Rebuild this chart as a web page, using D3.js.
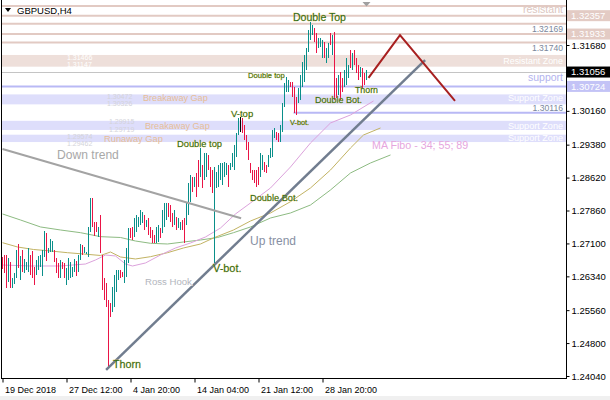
<!DOCTYPE html>
<html><head><meta charset="utf-8">
<script src="https://cdn.jsdelivr.net/npm/d3@7"></script>
<style>html,body{margin:0;padding:0;background:#fff;}svg{display:block;font-family:"Liberation Sans",Arial,sans-serif;}</style>
</head><body><svg id="c" width="610" height="400"></svg>
<script>
// ---- data ----
const high = [1.2679,1.2683,1.2683,1.2676,1.2667,1.2631,1.2641,1.2695,1.2708,1.2681,
1.2695,1.2674,1.2667,1.2699,1.2683,1.2692,1.2656,1.2671,1.2681,1.2683,
1.2695,1.2738,1.2734,1.2699,1.2720,1.2715,1.2695,1.2676,1.2664,1.2671,
1.2667,1.2664,1.2653,1.2676,1.2667,1.2656,1.2674,1.2669,1.2683,1.2708,
1.2706,1.2702,1.2691,1.2748,1.2815,1.2815,1.2760,1.2759,1.2748,1.2775,
1.2683,1.2630,1.2618,1.2579,1.2572,1.2609,1.2637,1.2648,1.2648,1.2648,
1.2644,1.2671,1.2699,1.2745,1.2745,1.2748,1.2768,1.2775,1.2771,1.2787,
1.2782,1.2775,1.2764,1.2768,1.2748,1.2741,1.2729,1.2748,1.2752,1.2745,
1.2787,1.2803,1.2803,1.2803,1.2798,1.2780,1.2787,1.2771,1.2768,1.2759,
1.2764,1.2768,1.2805,1.2849,1.2868,1.2863,1.2863,1.2872,1.2902,1.2930,
1.2891,1.2919,1.2919,1.2914,1.2886,1.2879,1.2886,1.2875,1.2891,1.2895,
1.2895,1.2898,1.2895,1.2891,1.2895,1.2919,1.2937,1.2965,1.2999,1.3002,
1.2999,1.2983,1.2960,1.2944,1.2895,1.2879,1.2879,1.2879,1.2886,1.2919,
1.2914,1.2898,1.2891,1.2914,1.2930,1.2972,1.2976,1.2967,1.2965,1.2983,
1.3034,1.3080,1.3094,1.3087,1.3083,1.3083,1.3071,1.3048,1.3069,1.3099,
1.3129,1.3145,1.3161,1.3203,1.3221,1.3214,1.3207,1.3196,1.3184,1.3184,
1.3180,1.3175,1.3161,1.3173,1.3196,1.3191,1.3198,1.3092,1.3099,1.3106,
1.3092,1.3110,1.3138,1.3122,1.3157,1.3150,1.3157,1.3138,1.3122,1.3117,
1.3115,1.3103,1.3110];
const low = [1.2652,1.2642,1.2607,1.2621,1.2607,1.2607,1.2616,1.2630,1.2653,1.2625,
1.2644,1.2641,1.2648,1.2644,1.2637,1.2631,1.2615,1.2637,1.2648,1.2656,
1.2634,1.2679,1.2670,1.2688,1.2691,1.2691,1.2667,1.2641,1.2631,1.2630,
1.2651,1.2630,1.2614,1.2625,1.2631,1.2633,1.2644,1.2635,1.2644,1.2671,
1.2683,1.2688,1.2685,1.2679,1.2737,1.2748,1.2728,1.2736,1.2725,1.2688,
1.2602,1.2579,1.2563,1.2424,1.2540,1.2551,1.2563,1.2597,1.2625,1.2630,
1.2632,1.2618,1.2632,1.2664,1.2722,1.2718,1.2725,1.2736,1.2748,1.2752,
1.2757,1.2741,1.2748,1.2729,1.2722,1.2711,1.2711,1.2711,1.2713,1.2722,
1.2734,1.2748,1.2764,1.2771,1.2759,1.2748,1.2752,1.2741,1.2745,1.2741,
1.2741,1.2711,1.2752,1.2775,1.2805,1.2828,1.2840,1.2817,1.2840,1.2863,
1.2838,1.2856,1.2863,1.2879,1.2840,1.2826,1.2664,1.2838,1.2840,1.2856,
1.2845,1.2863,1.2868,1.2840,1.2879,1.2886,1.2879,1.2909,1.2960,1.2967,
1.2965,1.2949,1.2926,1.2902,1.2872,1.2856,1.2849,1.2840,1.2845,1.2863,
1.2879,1.2875,1.2872,1.2886,1.2907,1.2909,1.2953,1.2949,1.2944,1.2944,
1.2967,1.3025,1.3059,1.3059,1.3071,1.3048,1.3011,1.3006,1.3034,1.3041,
1.3071,1.3083,1.3110,1.3152,1.3180,1.3191,1.3175,1.3150,1.3161,1.3163,
1.3138,1.3138,1.3126,1.3138,1.3168,1.3145,1.3041,1.3046,1.3053,1.3041,
1.3059,1.3071,1.3076,1.3092,1.3115,1.3110,1.3122,1.3103,1.3087,1.3094,
1.3069,1.3076,1.3087];
// u = bullish, d = bearish, n = doji
const direction = ("ddduduuudu"+"duuuddduuu"+"uuduuudddu"+"dduuuuuduu"+"duuuudddud"+
"ddddduuuud"+"duuudduuuu"+"ududddduud"+"uuuddduduu"+"dduuududdu"+
"duuddduuuu"+"uuuduuuuun"+"dddddddddu"+"udduuuuddu"+"uuuudddduu"+
"uuuuuudduu"+"uduududdud"+"duuududddu"+"ddu").split("");

// moving averages [bar index, price]
const ma34 = [[0,1.26602],[14,1.26579],[29,1.26579],[41.5,1.26625],[46.5,1.26718],[51.5,1.26833],[56.5,1.26810],[61.5,1.26625],[65,1.26579],[71.5,1.26649],[79,1.26833],[86.5,1.26995],[94,1.27110],[101.5,1.27249],[109,1.27456],[116.5,1.27780],[124,1.28034],[134,1.28380],[144,1.28865],[154,1.29419],[164,1.29880],[174,1.30065],[185.5,1.30388]];
const ma55 = [[0,1.27117],[7.5,1.27018],[15.5,1.26960],[24,1.26926],[32.5,1.26886],[40.5,1.26856],[49,1.26822],[54,1.26902],[59,1.26787],[66.5,1.26741],[74,1.26794],[82.5,1.26886],[90.5,1.26995],[99,1.27087],[105.5,1.27226],[115.5,1.27410],[124,1.27618],[134,1.27803],[144,1.28064],[154,1.28380],[164,1.28795],[174,1.29303],[180.5,1.29603],[189,1.29765]];
const ma89 = [[0,1.27780],[9,1.27641],[19,1.27480],[29,1.27410],[39,1.27348],[49,1.27256],[59,1.27237],[66.5,1.27156],[74,1.27103],[82.5,1.27087],[90.5,1.27133],[99,1.27179],[107.5,1.27237],[115.5,1.27348],[124,1.27480],[134,1.27687],[144,1.27803],[154,1.27987],[164,1.28334],[174,1.28726],[184,1.28957],[194,1.29142]];

const resistanceLevels = [1.32581,1.32357,1.32169,1.31933,1.31740];
const supportLevel = 1.30724;
const vbotLevel = {from:145.5, price:1.30116};
const bidPrice = 1.31056;
const resistZone = [1.3145,1.3118];
const supportZones = [[1.3054,1.3031],[1.2993,1.29719],[1.2961,1.2944]];

const downTrend = [[0,1.2928],[119.3,1.2768]];
const upTrend = [[51.8,1.2418],[211.3,1.3133]];
const projection = [[183,1.3092],[198.75,1.3191],[226.25,1.3039]];

const priceTicks = [1.3168,1.3016,1.2938,1.2862,1.2786,1.2710,1.2634,1.2556,1.2480,1.2404];
const timeTickIdx = [0,32,64,96,128,160];
const timeTickLabels = ["19 Dec 2018","27 Dec 12:00","4 Jan 20:00","14 Jan 04:00","21 Jan 12:00","28 Jan 20:00"];

const priceBoxes = [
  {v:1.32357, kind:"res"},{v:1.31933, kind:"res"},{v:1.31056, kind:"bid"},{v:1.30724, kind:"sup"}];

// annotations: [text, bar index, price, style, font size]
const annotations = [
 ["Double Top",145.25,1.3223,"pat",10.5],
 ["Double top",122.75,1.3091,"pat",7.6],
 ["V-top",114.25,1.3002,"pat",9.5],
 ["Double top",87.25,1.2932,"pat",9.3],
 ["Double Bot.",156.25,1.3033,"pat",9],
 ["Thorn",176.25,1.3058,"pat",8.8],
 ["V-bot.",143.75,1.2984,"pat",7.3],
 ["Double Bot.",123.75,1.2807,"pat",9.2],
 ["V-bot.",105.25,1.2644,"pat",10.9],
 ["Thorn",55.25,1.2422,"pat",10.7],
 ["Up trend",123.75,1.2707,"up",12],
 ["Down trend",27.25,1.2904,"down",12.1],
 ["Ross Hook",71.25,1.2614,"ross",9.6],
 ["MA Fibo - 34; 55; 89",184.75,1.2928,"ma",10.7],
 ["Breakaway Gap",70.25,1.3038,"gap",9.1],
 ["1.30472",52.25,1.3044,"gapnum",7],
 ["1.30326",52.25,1.3028,"gapnum",7],
 ["Breakaway Gap",71.25,1.2973,"gap",9.1],
 ["1.29915",53.25,1.2985,"gapnum",7],
 ["1.29719",53.25,1.2968,"gapnum",7],
 ["Runaway Gap",50.75,1.2945,"gap",9.3],
 ["1.29574",32.25,1.2952,"gapnum",7],
 ["1.29462",32.25,1.2936,"gapnum",7],
 ["1.31466",32.25,1.3134,"white",7],
 ["1.31147",32.25,1.3118,"white",7]
];
const rightNotes = [
 ["resistant",1.3242,"resText",10.6],
 ["1.32169",1.3199,"lvl",8.6],
 ["1.31740",1.3154,"lvl",8.6],
 ["Resistant Zone",1.3124,"white",8.9],
 ["support",1.3085,"supText",10.5],
 ["Support Zone",1.3038,"white",9.1],
 ["1.30116",1.3016,"lvl",8.6],
 ["Support Zone",1.2975,"white",9.1],
 ["Support Zone",1.2947,"white",9.1]
];

// ---- drawing ----
const svg = d3.select("#c");
const x = d3.scaleLinear().domain([0,282]).range([2.5,566.5]);
const y = d3.scaleLinear().domain([1.2404,1.3168]).range([376,45]);
const plotL = 2, plotR = 566, plotB = 378;

svg.append("rect").attr("width",610).attr("height",400).attr("fill","#fff");
svg.append("rect").attr("x",0).attr("y",396).attr("width",610).attr("height",4).attr("fill","#f0f0f0");
svg.append("defs").append("clipPath").attr("id","clip").append("rect")
  .attr("x",plotL).attr("y",0).attr("width",plotR-plotL).attr("height",plotB);
const g = svg.append("g").attr("clip-path","url(#clip)");

const resCol="#e2cac3", resZoneCol="#eedfda", supCol="#b9b9f5", supZoneCol="#dedefb";
// zones
g.append("rect").attr("x",plotL).attr("width",plotR-plotL)
  .attr("y",y(resistZone[0])).attr("height",y(resistZone[1])-y(resistZone[0])).attr("fill",resZoneCol);
g.selectAll("rect.sz").data(supportZones).join("rect").attr("class","sz")
  .attr("x",plotL).attr("width",plotR-plotL)
  .attr("y",d=>y(d[0])).attr("height",d=>y(d[1])-y(d[0])).attr("fill",supZoneCol);
// horizontal levels
g.selectAll("line.res").data(resistanceLevels).join("line").attr("class","res")
  .attr("x1",plotL).attr("x2",plotR).attr("y1",d=>y(d)).attr("y2",d=>y(d))
  .attr("stroke",resCol).attr("stroke-width",2);
g.append("line").attr("x1",plotL).attr("x2",plotR).attr("y1",y(bidPrice)).attr("y2",y(bidPrice))
  .attr("stroke","#c4c4c4").attr("stroke-width",1).attr("shape-rendering","crispEdges");
g.append("line").attr("x1",plotL).attr("x2",plotR).attr("y1",y(supportLevel)).attr("y2",y(supportLevel))
  .attr("stroke",supCol).attr("stroke-width",2);
g.append("line").attr("x1",x(vbotLevel.from)).attr("x2",plotR).attr("y1",y(vbotLevel.price)).attr("y2",y(vbotLevel.price))
  .attr("stroke",supCol).attr("stroke-width",2);

// moving averages
const line = d3.line().x(d=>x(d[0])).y(d=>y(d[1]));
[[ma89,"#8dbb82"],[ma55,"#c2b363"],[ma34,"#dca2dc"]].forEach(([d,c])=>{
  g.append("path").attr("d",line(d)).attr("fill","none").attr("stroke",c).attr("stroke-width",1);
});

// candles
const colors = {u:"#0a8f8a", d:"#ea1446", n:"#000"};
g.selectAll("line.bar").data(high.map((h,i)=>({i,h,l:low[i],dir:direction[i]}))).join("line")
  .attr("class","bar")
  .attr("x1",d=>x(d.i)).attr("x2",d=>x(d.i))
  .attr("y1",d=>y(d.h)).attr("y2",d=>Math.max(y(d.l),y(d.h)+1))
  .attr("stroke",d=>colors[d.dir]).attr("stroke-width",1).attr("shape-rendering","crispEdges");

// trend lines
g.append("path").attr("d",line(downTrend)).attr("stroke","#a3a3a3").attr("stroke-width",2).attr("fill","none");
g.append("path").attr("d",line(upTrend)).attr("stroke","#717d8f").attr("stroke-width",2.5).attr("fill","none");
g.append("path").attr("d",line(projection)).attr("stroke","#a82020").attr("stroke-width",2).attr("fill","none");

// annotations
const styles = {
  pat:{fill:"#2f6c1c", stroke:"#e0c040", sw:0.35},
  up:{fill:"#8790a3"}, down:{fill:"#a8a8a8"},
  ross:{fill:"#b3b6be", stroke:"#ffffff", sw:1.2},
  ma:{fill:"#e6a6de"}, gap:{fill:"#e6bd97"}, gapnum:{fill:"#d3d3da"},
  white:{fill:"#ffffff"}, lvl:{fill:"#7a879c"}, resText:{fill:"#dcc6c0"}, supText:{fill:"#b3b3ee"}
};
function styleText(sel, st){
  sel.attr("fill",st.fill);
  if(st.stroke){ sel.attr("stroke",st.stroke).attr("stroke-width",st.sw).attr("paint-order","stroke"); }
}
annotations.forEach(([t,i,p,s,fs])=>{
  const tx = g.append("text").attr("x",x(i)).attr("y",y(p)).text(t).style("font-size",fs+"px");
  styleText(tx, styles[s]);
});
rightNotes.forEach(([t,p,s,fs])=>{
  const tx = g.append("text").attr("x",563).attr("y",y(p)).attr("text-anchor","end").text(t).style("font-size",fs+"px");
  styleText(tx, styles[s]);
});

// frame
svg.append("line").attr("x1",1.5).attr("x2",1.5).attr("y1",0).attr("y2",plotB+0.5).attr("stroke","#000");
svg.append("line").attr("x1",plotR+0.5).attr("x2",plotR+0.5).attr("y1",0).attr("y2",plotB+0.5).attr("stroke","#000");
svg.append("line").attr("x1",1).attr("x2",plotR+1).attr("y1",plotB+0.5).attr("y2",plotB+0.5).attr("stroke","#000");

// right price axis
const ya = svg.append("g").attr("transform",`translate(${plotR+0.5},0)`)
  .call(d3.axisRight(y).tickValues(priceTicks).tickFormat(d3.format(".5f")).tickSize(3).tickSizeOuter(0));
ya.select(".domain").remove();
ya.selectAll("line").attr("stroke","#000");
ya.selectAll("text").attr("x",5).attr("fill","#000").style("font-size","9.5px").style("font-family","'Liberation Sans',Arial,sans-serif");

// price boxes
const boxFill = {res:"#e3cbc4", bid:"#000", sup:"#c3c3f6"};
const bx = svg.append("g");
priceBoxes.forEach(b=>{
  const cy = y(b.v);
  bx.append("rect").attr("x",plotR+1).attr("y",cy-5.5).attr("width",610-plotR-1).attr("height",11).attr("fill",boxFill[b.kind]);
  bx.append("text").attr("x",plotR+5).attr("y",cy).attr("dy","0.35em").text(d3.format(".5f")(b.v))
    .attr("fill","#fff").style("font-size","9.5px");
});

// time axis
const xa = svg.append("g").attr("transform",`translate(0,${plotB+0.5})`)
  .call(d3.axisBottom(x).tickValues(timeTickIdx).tickFormat((d,k)=>timeTickLabels[k]).tickSize(4).tickSizeOuter(0));
xa.select(".domain").remove();
xa.selectAll("line").attr("stroke","#000");
xa.selectAll("text").attr("text-anchor","start").attr("x",2).attr("y",8).attr("fill","#000")
  .style("font-size","9px").style("font-family","'Liberation Sans',Arial,sans-serif");

// title & markers
svg.append("path").attr("d","M5,8 L11,8 L8,12 Z").attr("fill","#000");
svg.append("text").attr("x",17).attr("y",14).text("GBPUSD,H4").style("font-size","9.5px").attr("fill","#000");
svg.append("path").attr("d",`M${x(182)-4},2 L${x(182)+4},2 L${x(182)},6.5 Z`).attr("fill","#a0a0a0");
</script></body></html>
